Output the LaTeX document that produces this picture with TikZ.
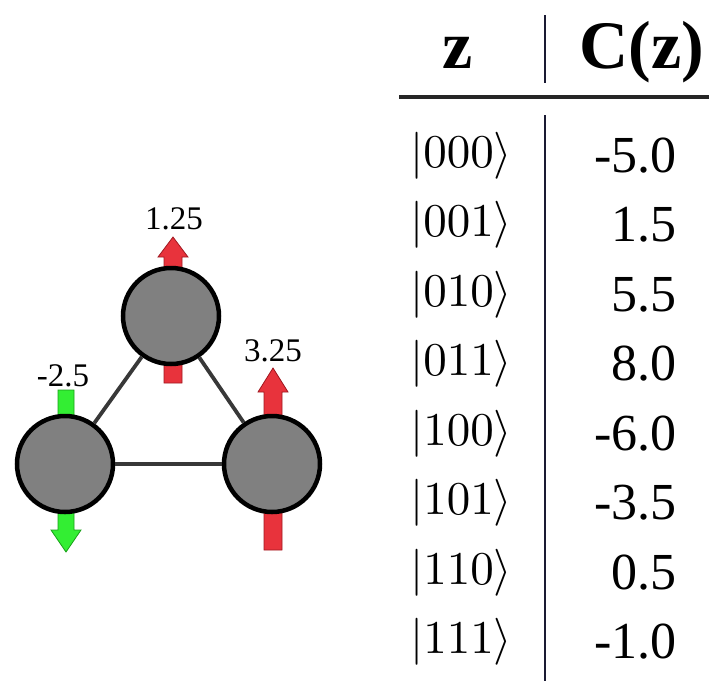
\documentclass[tikz,border=0pt]{standalone}
\usepackage{fontspec}
\newfontfamily\tms{Liberation Serif}
\definecolor{arrred}{HTML}{E8333C}
\definecolor{arrredd}{HTML}{A01820}
\definecolor{arrgreen}{HTML}{33EE33}
\definecolor{arrgreend}{HTML}{18A018}
\definecolor{rulecol}{HTML}{1A1A33}
\tikzset{
  spin/.style={circle, draw=black, line width=4.5pt, fill=black!50, minimum size=96pt, inner sep=0pt},
  bond/.style={draw=black!78, line width=3.8pt},
  upred/.style={fill=arrred, draw=arrredd, line width=0.8pt},
  dngreen/.style={fill=arrgreen, draw=arrgreend, line width=0.8pt},
  lab/.style={font=\tms\fontsize{33}{33}\selectfont, inner sep=0pt},
  ket/.style={inner sep=0pt, anchor=base west},
  val/.style={font=\tms\fontsize{52}{52}\selectfont, inner sep=0pt, anchor=base east},
  hdr/.style={font=\tms\bfseries\fontsize{68}{68}\selectfont, inner sep=0pt, anchor=base},
  tblrule/.style={draw=rulecol, line width=2.8pt}
}
\begin{document}
\begin{tikzpicture}[x=1pt,y=-1pt]
\useasboundingbox (0,0) rectangle (709,681);
% arrows (behind spins)
\fill[upred] (164,383) -- (182,383) -- (182,257) -- (188,257) -- (173,237) -- (158,257) -- (164,257) -- cycle;
\fill[upred] (264,550) -- (282,550) -- (282,392) -- (288,392) -- (273,368) -- (258,392) -- (264,392) -- cycle;
\fill[dngreen] (58,390) -- (74,390) -- (74,530) -- (81,530) -- (66,552) -- (51,530) -- (58,530) -- cycle;
% spins
\node[spin] (top) at (171,316) {};
\node[spin] (left) at (65,464) {};
\node[spin] (right) at (272,464) {};
\draw[bond] (top) -- (left);
\draw[bond] (top) -- (right);
\draw[bond] (left) -- (right);
% labels
\node[lab] (ltop) at (174,219) {1.25};
\node[lab] (lright) at (273,351) {3.25};
\node[lab] (lleft) at (63,376) {-2.5};
% table
\node[hdr] (hz) at (458,68) {z};
\node[hdr] (hc) at (642,68) {C(z)};
\coordinate (v1) at (545,15);
\coordinate (v2) at (545,83);
\coordinate (v3) at (545,115);
\coordinate (v4) at (545,681);
\coordinate (h1) at (399,97);
\coordinate (h2) at (709,97);
\draw[tblrule] (v1) -- (v2);
\draw[tblrule] (v3) -- (v4);
\draw[draw=black!85, line width=4pt] (h1) -- (h2);
\foreach \k/\z/\c in {0/000/-5.0,1/001/1.5,2/010/5.5,3/011/8.0,4/100/-6.0,5/101/-3.5,6/110/0.5,7/111/-1.0}{
  \node[ket] (k\k) at (410,167+69.5*\k) {\scalebox{4.7}{$|\z\rangle$}};
  \node[val] (c\k) at (677,172+69.5*\k) {\c};
}
\end{tikzpicture}
\end{document}
